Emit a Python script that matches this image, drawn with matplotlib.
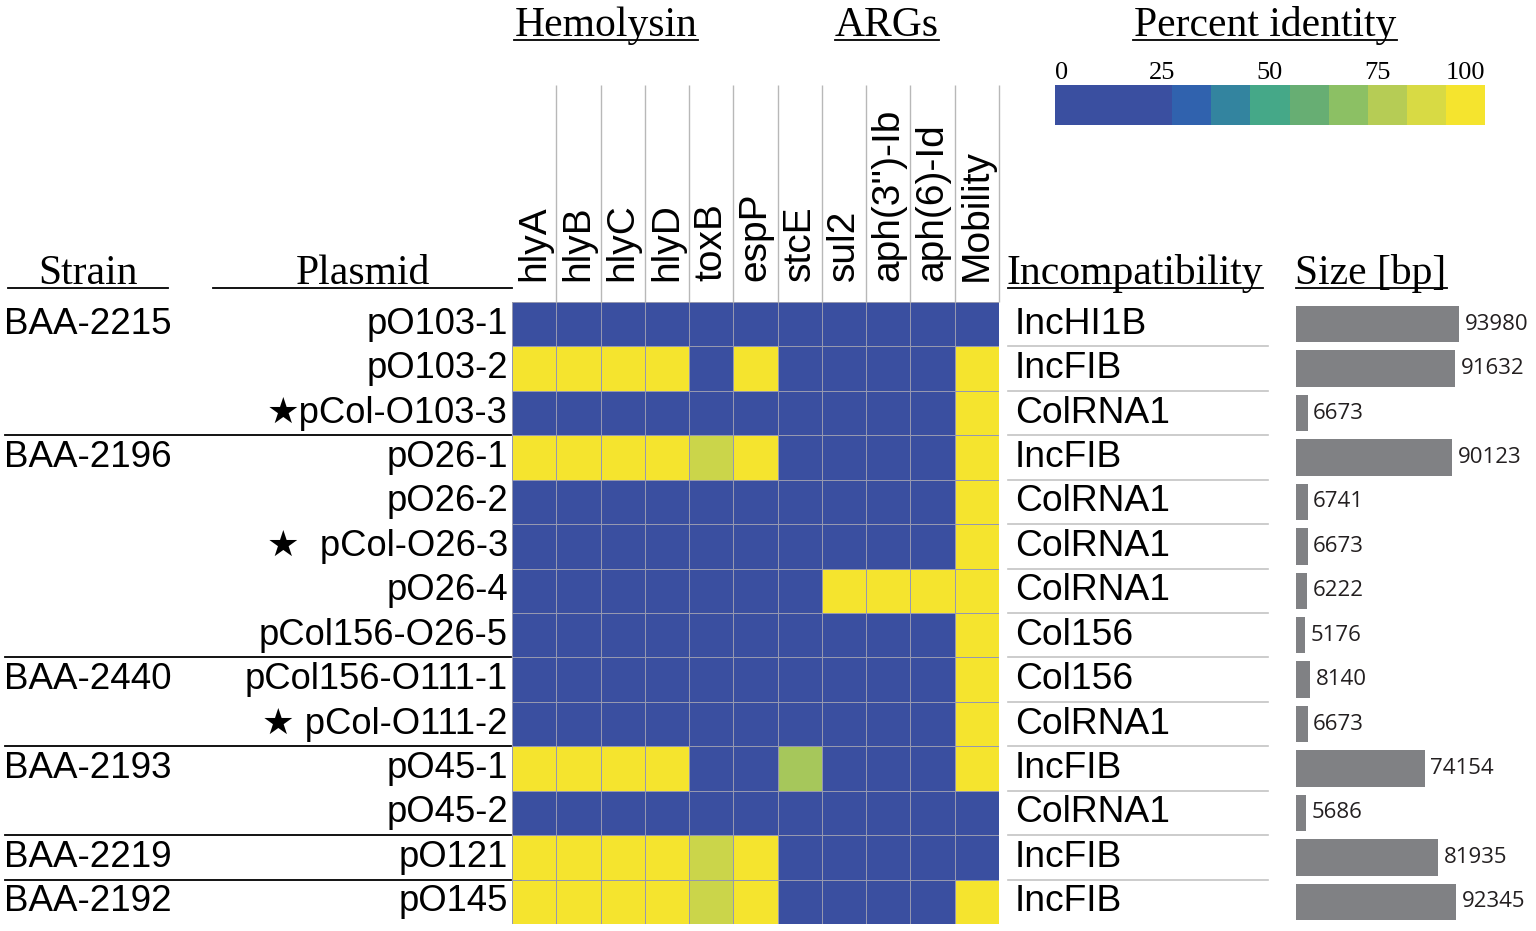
import numpy as np
import matplotlib
matplotlib.use('Agg')
import matplotlib.pyplot as plt
import matplotlib.colors as mcolors
import matplotlib.transforms as mtransforms
from matplotlib.cm import ScalarMappable

W, H = 1536, 931

# ---- data ----
genes = ['hlyA', 'hlyB', 'hlyC', 'hlyD', 'toxB', 'espP', 'stcE', 'sul2',
         "aph(3'')-Ib", 'aph(6)-Id', 'Mobility']
plasmids = ['pO103-1', 'pO103-2', '\u2605pCol-O103-3', 'pO26-1', 'pO26-2',
            '\u2605  pCol-O26-3', 'pO26-4', 'pCol156-O26-5', 'pCol156-O111-1',
            '\u2605 pCol-O111-2', 'pO45-1', 'pO45-2', 'pO121', 'pO145']
strains = ['BAA-2215', 'BAA-2196', 'BAA-2440', 'BAA-2193', 'BAA-2219', 'BAA-2192']
strain_first_row = [0, 3, 8, 10, 12, 13]
incompat = ['IncHI1B', 'IncFIB', 'ColRNA1', 'IncFIB', 'ColRNA1', 'ColRNA1', 'ColRNA1',
            'Col156', 'Col156', 'ColRNA1', 'IncFIB', 'ColRNA1', 'IncFIB', 'IncFIB']
sizes = [93980, 91632, 6673, 90123, 6741, 6673, 6222, 5176, 8140, 6673,
         74154, 5686, 81935, 92345]
# percent identity, rows = plasmids, cols = genes
identity = np.array([
    [0, 0, 0, 0, 0, 0, 0, 0, 0, 0, 0],
    [100, 100, 100, 100, 0, 100, 0, 0, 0, 0, 100],
    [0, 0, 0, 0, 0, 0, 0, 0, 0, 0, 100],
    [100, 100, 100, 100, 86, 100, 0, 0, 0, 0, 100],
    [0, 0, 0, 0, 0, 0, 0, 0, 0, 0, 100],
    [0, 0, 0, 0, 0, 0, 0, 0, 0, 0, 100],
    [0, 0, 0, 0, 0, 0, 0, 100, 100, 100, 100],
    [0, 0, 0, 0, 0, 0, 0, 0, 0, 0, 100],
    [0, 0, 0, 0, 0, 0, 0, 0, 0, 0, 100],
    [0, 0, 0, 0, 0, 0, 0, 0, 0, 0, 100],
    [100, 100, 100, 100, 0, 0, 76, 0, 0, 0, 100],
    [0, 0, 0, 0, 0, 0, 0, 0, 0, 0, 0],
    [100, 100, 100, 100, 86, 100, 0, 0, 0, 0, 0],
    [100, 100, 100, 100, 86, 100, 0, 0, 0, 0, 100],
])
cbar_ticks = [0, 25, 50, 75, 100]
block_colors = ['#3a4fa0', '#3a4fa0', '#3a4fa0', '#3062ae', '#33849f', '#45a888',
                '#67ae73', '#8cc064', '#b6cc55', '#d8da44', '#f5e42e']

SANS = ['Liberation Sans', 'DejaVu Sans']
SERIF = ['Liberation Serif', 'DejaVu Serif']
NUMF = ['Open Sans', 'DejaVu Sans']


def fx(px):
    return px / W


def fy(py):
    return 1 - py / H


fig = plt.figure(figsize=(W / 100, H / 100), dpi=100)

# ---- heatmap ----
top, bottom = 302, 924
ax = fig.add_axes([fx(512), fy(bottom), fx(999) - fx(512), fy(top) - fy(bottom)])
cmap = mcolors.LinearSegmentedColormap.from_list('pid', block_colors)
ax.pcolormesh(identity, cmap=cmap, vmin=0, vmax=100,
              edgecolors='#9598b0', linewidth=0.7)
ax.set_xlim(0, len(genes))
ax.set_ylim(len(plasmids), 0)
ax.axis('off')

x_data_y_fig = mtransforms.blended_transform_factory(ax.transData, fig.transFigure)
y_data_x_fig = mtransforms.blended_transform_factory(fig.transFigure, ax.transData)

# column separators above the heatmap + gene labels
ax.vlines(np.arange(1, len(genes) + 1), fy(top), fy(85), transform=x_data_y_fig,
          color='#b8b8b8', lw=1, clip_on=False)
for j, g in enumerate(genes):
    ax.text(j + 0.5, fy(281), g, transform=x_data_y_fig, rotation=90,
            ha='center', va='bottom', fontsize=28, family=SANS)

rows = np.arange(len(plasmids)) + 0.5

# strain and plasmid labels
for s, r in zip(strains, strain_first_row):
    ax.text(fx(4), r + 0.5, s, transform=y_data_x_fig, ha='left', va='center',
            fontsize=26.5, family=SANS)
for p, y in zip(plasmids, rows):
    ax.text(fx(508), y, p, transform=y_data_x_fig, ha='right', va='center',
            fontsize=26.2, family=SANS)
for r in strain_first_row[1:]:
    ax.plot([fx(5), fx(511)], [r, r], transform=y_data_x_fig, color='black',
            lw=1.3, clip_on=False)

# incompatibility labels
for name, y in zip(incompat, rows):
    ax.text(fx(1015), y, name, transform=y_data_x_fig, ha='left', va='center',
            fontsize=26.8, family=SANS)
for r in range(1, len(incompat)):
    ax.plot([fx(1008), fx(1268)], [r, r], transform=y_data_x_fig, color='#c4c4c4',
            lw=1.2, clip_on=False)

# ---- size bars ----
bar_left = 1296
bar_px_per_bp = 163 / 93980
axb = fig.add_axes([fx(bar_left), fy(bottom), fx(W) - fx(bar_left), fy(top) - fy(bottom)])
axb.barh(rows, sizes, height=0.82, color='#808184')
axb.set_xlim(0, (W - bar_left) / bar_px_per_bp)
axb.set_ylim(len(plasmids), 0)
axb.axis('off')
for v, y in zip(sizes, rows):
    axb.annotate(str(v), (v, y), xytext=(4, 0), textcoords='offset points',
                 ha='left', va='center', fontsize=16, family=NUMF, color='#231f20')

# ---- colour scale ----
cax = fig.add_axes([fx(1055), fy(125), fx(1485) - fx(1055), fy(85) - fy(125)])
norm = mcolors.BoundaryNorm(np.linspace(0, 100, len(block_colors) + 1), len(block_colors))
sm = ScalarMappable(norm=norm, cmap=mcolors.ListedColormap(block_colors))
cb = fig.colorbar(sm, cax=cax, orientation='horizontal', ticks=cbar_ticks)
cb.outline.set_visible(False)
cax.minorticks_off()
cax.xaxis.set_ticks_position('top')
cax.tick_params(which='both', length=0, pad=1)
cax.set_xticklabels([str(t) for t in cbar_ticks], fontsize=19, family=SERIF)
labels = cax.get_xticklabels()
labels[0].set_ha('left')
labels[-1].set_ha('right')

# ---- underlined serif headers ----
headers = [
    ('Hemolysin', 606, 36, 514, 698),
    ('ARGs', 887, 36, 835, 939),
    ('Percent identity', 1265, 36, 1133, 1397),
    ('Strain', 88, 284, 8, 168),
    ('Plasmid', 363, 284, 213, 512),
    ('Incompatibility', 1135, 284, 1008, 1263),
    ('Size [bp]', 1371, 284, 1296, 1447),
]
for txt, cx, base, x0, x1 in headers:
    fig.text(fx(cx), fy(base), txt, ha='center', va='baseline', fontsize=30,
             family=SERIF)
    fig.add_artist(plt.Line2D([fx(x0), fx(x1)], [fy(base + 4), fy(base + 4)],
                              color='black', lw=1.3))

fig.savefig('out.png', dpi=100)
